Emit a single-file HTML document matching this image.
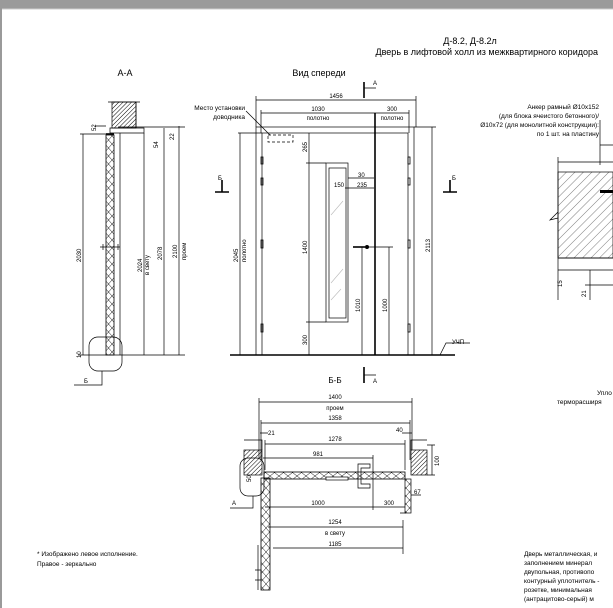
<!DOCTYPE html>
<html><head><meta charset="utf-8"><style>
html,body{margin:0;padding:0;background:#fff;width:613px;height:608px;overflow:hidden}
svg{display:block}
text{font-family:"Liberation Sans",sans-serif;fill:#000}
.d{font-size:6px}
.l{stroke:#000;stroke-width:.7;fill:none}
.t{stroke:#000;stroke-width:1.6;fill:none}
</style></head><body>
<svg width="613" height="608" viewBox="0 0 613 608" xmlns="http://www.w3.org/2000/svg">
<defs>
<pattern id="h" width="3" height="3" patternUnits="userSpaceOnUse" patternTransform="rotate(45)"><line x1="0" y1="0" x2="0" y2="3" stroke="#000" stroke-width="1"/></pattern>
<pattern id="h2" width="6" height="6" patternUnits="userSpaceOnUse" patternTransform="rotate(45)"><line x1="0" y1="0" x2="0" y2="6" stroke="#000" stroke-width=".5"/></pattern>
<pattern id="x" width="7" height="8" patternUnits="userSpaceOnUse"><path d="M0 0L7 8M7 0L0 8" stroke="#000" stroke-width=".5"/></pattern>
<pattern id="xh" width="9" height="7" patternUnits="userSpaceOnUse"><path d="M0 0L9 7M9 0L0 7" stroke="#000" stroke-width=".5"/></pattern>
</defs>
<rect x="0" y="0" width="613" height="9" fill="#9a9a9a"/>
<rect x="0" y="0" width="2" height="608" fill="#9a9a9a"/>
<line x1="2" y1="9" x2="613" y2="9" stroke="#ccc"/>

<text x="470" y="44" font-size="9" text-anchor="middle">Д-8.2, Д-8.2л</text>
<text x="598" y="55" font-size="9" text-anchor="end">Дверь в лифтовой холл из межквартирного коридора</text>
<text x="125" y="76" font-size="9" text-anchor="middle">А-А</text>
<text x="319" y="76" font-size="9" text-anchor="middle">Вид спереди</text>

<!-- A-A section -->
<rect x="112" y="102" width="24" height="26" fill="url(#h)" stroke="#000" stroke-width=".7"/>
<path class="l" d="M108 102H140M110 128H144V133H110ZM136 102V128"/>
<rect x="106" y="135" width="8" height="220" fill="url(#x)" stroke="#000" stroke-width=".8"/>
<line class="t" x1="106" y1="134" x2="114" y2="134"/>
<line class="l" x1="120" y1="133" x2="120" y2="355"/>
<path class="l" d="M100 247h20M103 244v6M118 244v6"/>
<path class="l" d="M80 134H112M83 134V355M144 133V355M164 128V355M179 126V355M78 355H185M118 127H185M95 126H106"/>
<text class="d" transform="translate(96,131) rotate(-90)">52</text>
<text class="d" transform="translate(158,148) rotate(-90)">54</text>
<text class="d" transform="translate(174,140) rotate(-90)">22</text>
<text class="d" transform="translate(81,262) rotate(-90)">2030</text>
<text class="d" transform="translate(142,272) rotate(-90)">2024</text>
<text class="d" transform="translate(149,275) rotate(-90)">в свету</text>
<text class="d" transform="translate(162,260) rotate(-90)">2078</text>
<text class="d" transform="translate(177,258) rotate(-90)">2100</text>
<text class="d" transform="translate(186,260) rotate(-90)">проем</text>
<text class="d" transform="translate(81,358) rotate(-90)">10</text>
<rect class="l" x="89" y="337" width="33" height="34" rx="9"/>
<path class="l" d="M102 371V385H74"/>
<text class="d" x="84" y="383">Б</text>

<!-- Front view -->
<text x="245" y="110" font-size="6.5" text-anchor="end">Место установки</text>
<text x="245" y="119" font-size="6.5" text-anchor="end">доводника</text>
<path class="l" d="M246 111L270 135"/>
<rect x="268" y="135" width="25" height="7" fill="none" stroke="#000" stroke-width=".7" stroke-dasharray="3,2"/>
<path class="l" d="M256 100H416M256 96V127M416 96V127M261 113H375M409 113H375M261 110V133M409 110V133"/>
<text class="d" x="336" y="98" text-anchor="middle">1456</text>
<text class="d" x="318" y="111" text-anchor="middle">1030</text>
<text class="d" x="318" y="120" text-anchor="middle">полотно</text>
<text class="d" x="392" y="111" text-anchor="middle">300</text>
<text class="d" x="392" y="120" text-anchor="middle">полотно</text>
<rect class="l" x="256" y="127" width="158" height="228"/>
<rect class="l" x="262" y="133" width="146" height="222"/>
<line class="t" x1="375" y1="113" x2="375" y2="355"/>
<path class="t" d="M230 355H455"/>
<path class="l" d="M238 133H262M240 133V355M414 127H436M432 127V355"/>
<text class="d" transform="translate(238,262) rotate(-90)">2045</text>
<text class="d" transform="translate(246,262) rotate(-90)">полотно</text>
<text class="d" transform="translate(430,252) rotate(-90)">2113</text>
<rect class="l" x="326" y="163" width="22" height="159"/>
<rect class="l" x="329" y="168" width="17" height="150"/>
<path d="M331 215l12-14M331 283l12-14M331 300l10-11" stroke="#bbb" stroke-width=".6"/>
<path class="l" d="M309 133V355M306 163H326M306 322H326M348 178H374M345 188H374"/>
<text class="d" transform="translate(307,152) rotate(-90)">265</text>
<text class="d" transform="translate(307,254) rotate(-90)">1400</text>
<text class="d" transform="translate(307,345) rotate(-90)">300</text>
<text class="d" x="358" y="177">30</text>
<text class="d" x="334" y="187">150</text>
<text class="d" x="357" y="187">235</text>
<path class="t" d="M353 247h12"/><circle cx="367" cy="247" r="2" fill="#000"/>
<path class="l" d="M362 247V355M389 247V355M367 247H393"/>
<text class="d" transform="translate(360,312) rotate(-90)">1010</text>
<text class="d" transform="translate(387,312) rotate(-90)">1000</text>
<g fill="none" stroke="#000" stroke-width=".8">
<rect x="261" y="157" width="2" height="7"/><rect x="261" y="178" width="2" height="7"/><rect x="261" y="240" width="2" height="8"/><rect x="261" y="324" width="2" height="8"/>
<rect x="408" y="157" width="2" height="7"/><rect x="408" y="178" width="2" height="7"/><rect x="408" y="240" width="2" height="8"/><rect x="408" y="324" width="2" height="8"/>
</g>
<path class="l" d="M440 355l6-12H470"/><text class="d" x="452" y="344">УЧП</text>
<path class="t" d="M222 180v12M215 192h14M450 180v12M443 192h14"/>
<text class="d" x="218" y="180">Б</text><text class="d" x="452" y="180">Б</text>
<path class="t" d="M364 82v16M364 367v16"/><path class="l" d="M364 88h12M364 375h12"/>
<text class="d" x="373" y="85">А</text><text class="d" x="373" y="383">А</text>

<!-- Б-Б -->
<text x="335" y="383" font-size="8" text-anchor="middle">Б-Б</text>
<path class="l" d="M259 402H412M259 398V458M412 398V450"/>
<text class="d" x="335" y="399" text-anchor="middle">1400</text>
<text class="d" x="335" y="410" text-anchor="middle">проем</text>
<path class="l" d="M261 423H410M261 420V460M410 420V460"/>
<text class="d" x="335" y="420" text-anchor="middle">1358</text>
<path class="l" d="M265 444H405M265 440V470M405 440V470M260 433h8M402 433h10"/>
<text class="d" x="268" y="435">21</text><text class="d" x="396" y="432">40</text>
<text class="d" x="335" y="441" text-anchor="middle">1278</text>
<path class="l" d="M263 458H373M373 455V510"/>
<text class="d" x="318" y="456" text-anchor="middle">981</text>
<rect x="244" y="450" width="18" height="25" fill="url(#h)" stroke="#000" stroke-width=".7"/>
<rect x="411" y="450" width="16" height="25" fill="url(#h)" stroke="#000" stroke-width=".7"/>
<path class="l" d="M244 440H262V450M427 440H411V450M427 475H435M427 445h8M432 445v30"/>
<text class="d" transform="translate(439,466) rotate(-90)">100</text>
<rect x="264" y="472" width="141" height="7" fill="url(#xh)" stroke="#000" stroke-width=".8"/>
<rect x="326" y="477" width="22" height="3" fill="#fff" stroke="#000" stroke-width=".7"/>
<path class="l" d="M358 464h12v4h-9v16h9v4h-12z"/>
<rect class="l" x="240" y="458" width="24" height="38" rx="8"/>
<text class="d" transform="translate(251,482) rotate(-90)">50</text>
<path class="l" d="M253 496V508H230"/><text class="d" x="232" y="505">А</text>
<rect x="261" y="478" width="9" height="112" fill="url(#x)" stroke="#000" stroke-width=".8"/>
<path class="l" d="M258 545v45M255 570h6v10h-6"/>
<rect x="405" y="479" width="6" height="34" fill="url(#x)" stroke="#000" stroke-width=".7"/>
<path class="l" d="M265 507H405M400 513h6M411 495h10"/>
<text class="d" x="318" y="505" text-anchor="middle">1000</text>
<text class="d" x="389" y="505" text-anchor="middle">300</text>
<text class="d" x="414" y="494">67</text>
<path class="l" d="M268 527H403M273 548H403M403 520V554"/>
<text class="d" x="335" y="524" text-anchor="middle">1254</text>
<text class="d" x="335" y="535" text-anchor="middle">в свету</text>
<text class="d" x="335" y="546" text-anchor="middle">1185</text>

<!-- right detail -->
<text x="599" y="109" font-size="6.5" text-anchor="end">Анкер рамный Ø10x152</text>
<text x="599" y="118" font-size="6.5" text-anchor="end">(для блока ячеистого бетонного)/</text>
<text x="599" y="127" font-size="6.5" text-anchor="end">Ø10x72 (для монолитной конструкции):</text>
<text x="599" y="136" font-size="6.5" text-anchor="end">по 1 шт. на пластину</text>
<path class="l" d="M600 120V145H613M558 157V300M558 162H613M558 258H613M558 270H613M600 145V165"/>
<rect x="558" y="172" width="55" height="86" fill="url(#h2)" stroke="#000" stroke-width=".7"/>
<rect x="600" y="190" width="13" height="3" fill="#000"/>
<path class="l" d="M558 212l-8 8 8-2M590 270v30M585 285h28"/>
<text class="d" transform="translate(562,287) rotate(-90)">15</text>
<text class="d" transform="translate(586,297) rotate(-90)">21</text>
<text x="597" y="395" font-size="6.5">Упло</text>
<text x="557" y="404" font-size="6.5">терморасширя</text>

<text x="37" y="556" font-size="6.5">* Изображено левое исполнение.</text>
<text x="37" y="566" font-size="6.5">Правое - зеркально</text>
<g font-size="6.5">
<text x="524" y="556">Дверь металлическая, и</text>
<text x="524" y="565">заполнением минерал</text>
<text x="524" y="574">двупольная, противопо</text>
<text x="524" y="583">контурный уплотнитель -</text>
<text x="524" y="592">розетке, минимальная</text>
<text x="524" y="601">(антрацитово-серый) м</text>
</g>
</svg>
</body></html>
